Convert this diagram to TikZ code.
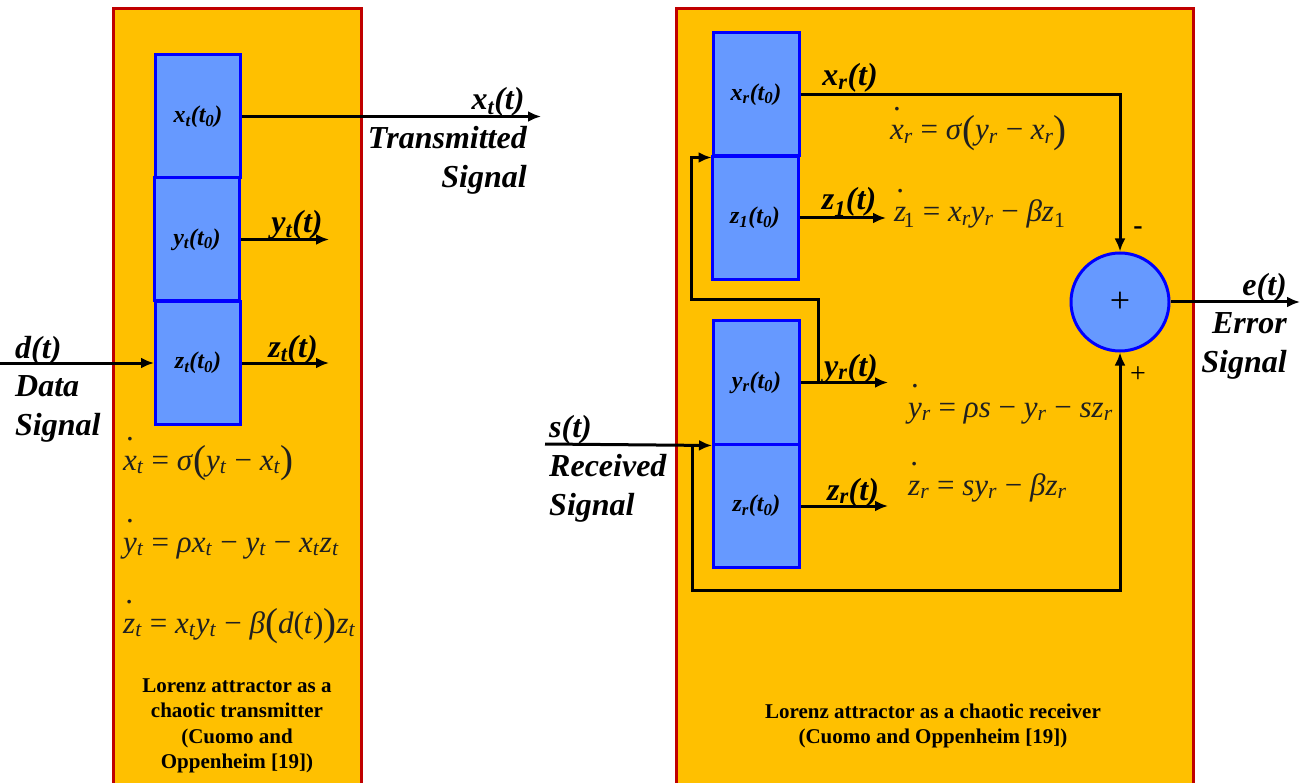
\documentclass[tikz,border=0pt]{standalone}
\usepackage{fontspec}
\setmainfont{Liberation Serif}
\usetikzlibrary{arrows.meta, positioning, calc}
\definecolor{panelorange}{RGB}{255, 192, 0}
\definecolor{panelred}{RGB}{192, 0, 0}
\definecolor{stateblue}{RGB}{102, 153, 255}
\definecolor{edgeblue}{RGB}{0, 0, 255}
\definecolor{eqgray}{RGB}{32, 32, 32}
% equation pieces
\newcommand\ev[2]{\textit{#1}\textsubscript{\textit{#2}}}
\newcommand\dv[2]{\ooalign{\textit{#1}\cr\hidewidth\raisebox{0.95em}{.}\hidewidth\cr}\textsubscript{\textit{#2}}}
\newcommand\eqlp{{\fontsize{39}{39}\selectfont\raisebox{-0.06em}{(}}}
\newcommand\eqrp{{\fontsize{39}{39}\selectfont\raisebox{-0.06em}{)}}}
\tikzset{
  panel/.style={fill=panelorange, draw=panelred, line width=3pt},
  statebox/.style={rectangle, fill=stateblue, draw=edgeblue, line width=3pt,
    minimum width=85pt, minimum height=123pt, inner sep=0pt,
    font=\fontsize{24}{24}\selectfont\bfseries\itshape},
  sig/.style={line width=3pt, -{Latex[length=13pt, width=11pt]}},
  siglabel/.style={inner sep=0pt, anchor=base, font=\fontsize{32}{39}\selectfont\bfseries\itshape},
  sigtext/.style={inner sep=0pt, align=#1, font=\fontsize{32}{39}\selectfont\bfseries\itshape},
  eqn/.style={anchor=base west, inner sep=0pt, text=eqgray, font=\fontsize{31}{33}\selectfont},
  caption/.style={align=center, font=\fontsize{21}{25.5}\selectfont\bfseries},
  sign/.style={inner sep=0pt, font=\fontsize{28}{28}\selectfont}
}
\begin{document}
\begin{tikzpicture}[x=1pt, y=-1pt]
    \path[use as bounding box, fill=white] (0,0) rectangle (1300,783);
    \clip (0,0) rectangle (1300,783);

    % panels
    \draw[panel] (113,9) rectangle (361,800);
    \draw[panel] (676,9) rectangle (1193,800);

    % transmitter
    \node[statebox] (xt) at (198,116.5) {x\textsubscript{t}(t\textsubscript{0})};
    \node[statebox] (yt) at (197,239.5) {y\textsubscript{t}(t\textsubscript{0})};
    \node[statebox] (zt) at (198,363) {z\textsubscript{t}(t\textsubscript{0})};

    \coordinate (din) at (0,363);
    \coordinate (xtout) at (541,116.5);
    \coordinate (ytout) at (329,239.5);
    \coordinate (ztout) at (329,363);
    \draw[sig] (din) -- (zt.west);
    \draw[sig] (xt.east) -- (xtout);
    \draw[sig] (yt.east) -- (ytout);
    \draw[sig] (zt.east) -- (ztout);

    \node[siglabel] (xtlab) at (498,110) {x\textsubscript{t}(t)};
    \node[sigtext=right, anchor=base east] (txlab) at (527,188) {Transmitted\\Signal};
    \node[siglabel] (ytlab) at (297,233) {y\textsubscript{t}(t)};
    \node[siglabel] (ztlab) at (293,357) {z\textsubscript{t}(t)};
    \node[siglabel, anchor=base west] (dlab) at (15,358) {d(t)};
    \node[sigtext=left, anchor=base west] (datalab) at (15,435) {Data\\Signal};

    \node[eqn] (eqxt) at (123,470) {\dv{x}{t} = \textit{σ}\eqlp\ev{y}{t} − \ev{x}{t}\eqrp};
    \node[eqn] (eqyt) at (123,552) {\dv{y}{t} = \textit{ρ}\ev{x}{t} − \ev{y}{t} − \ev{x}{t}\ev{z}{t}};
    \node[eqn] (eqzt) at (123,633) {\dv{z}{t} = \ev{x}{t}\ev{y}{t} − \textit{β}\eqlp\textit{d}(\textit{t})\eqrp\ev{z}{t}};

    \node[caption] (txcap) at (237,726) {Lorenz attractor as a\\chaotic transmitter\\(Cuomo and\\Oppenheim [19])};

    % receiver
    \node[statebox, minimum width=86pt] (xr) at (756,94.5) {x\textsubscript{r}(t\textsubscript{0})};
    \node[statebox, minimum width=86pt] (zo) at (755,218) {z\textsubscript{1}(t\textsubscript{0})};
    \node[statebox, minimum width=86pt] (yr) at (756.5,382.5) {y\textsubscript{r}(t\textsubscript{0})};
    \node[statebox, minimum width=86pt] (zr) at (756.5,506) {z\textsubscript{r}(t\textsubscript{0})};
    \node[circle, fill=stateblue, draw=edgeblue, line width=3pt, minimum size=98pt, inner sep=0pt,
      font=\fontsize{36}{36}\selectfont] (sum) at (1120,302) {+};

    \coordinate (sin) at (545,444);
    \coordinate (stap) at (692,444);
    \coordinate (ytap) at (818,382.5);
    \coordinate (zoout) at (886,218);
    \coordinate (yrout) at (888,382.5);
    \coordinate (zrout) at (888,506);
    \coordinate (eout) at (1300,302);
    \draw[sig] (sin) -- (yr.south west);
    \draw[sig] (xr.east) -| (sum.north);
    \draw[sig] (zo.east) -- (zoout);
    \draw[sig] (yr.east) -- (yrout);
    \draw[sig] (zr.east) -- (zrout);
    \draw[sig] (ytap) |- (691,300) |- (xr.south west);
    \draw[sig] (stap) -- (692,590) -| (sum.south);
    \draw[sig] (sum.east) -- (eout);

    \node[siglabel] (xrlab) at (850,86) {x\textsubscript{r}(t)};
    \node[siglabel] (zolab) at (849,210) {z\textsubscript{1}(t)};
    \node[siglabel] (yrlab) at (851,376) {y\textsubscript{r}(t)};
    \node[siglabel] (zrlab) at (853,500) {z\textsubscript{r}(t)};
    \node[siglabel, anchor=base west] (slab) at (549,437) {s(t)};
    \node[sigtext=left, anchor=base west] (rxlab) at (549,515) {Received\\Signal};
    \node[siglabel, anchor=base east] (elab) at (1287,296) {e(t)};
    \node[sigtext=right, anchor=base east] (errlab) at (1287,372) {Error\\Signal};
    \node[sign, font=\fontsize{28}{28}\selectfont\bfseries] (minus) at (1138,231) {-};
    \node[sign] (plus) at (1138,375) {+};

    \node[eqn] (eqxr) at (890,140) {\dv{x}{r} = \textit{σ}\eqlp\ev{y}{r} − \ev{x}{r}\eqrp};
    \node[eqn] (eqzo) at (894,222) {\dv{z}{}\kern-0.1em\textsubscript{1} = \ev{x}{r}\ev{y}{r} − \textit{β}\textit{z}\textsubscript{1}};
    \node[eqn] (eqyr) at (908,417) {\dv{y}{r} = \textit{ρs} − \ev{y}{r} − \textit{s}\ev{z}{r}};
    \node[eqn] (eqzr) at (908,495) {\dv{z}{r} = \textit{s}\ev{y}{r} − \textit{β}\ev{z}{r}};

    \node[caption] (rxcap) at (933,726) {Lorenz attractor as a chaotic receiver\\(Cuomo and Oppenheim [19])};
\end{tikzpicture}
\end{document}
